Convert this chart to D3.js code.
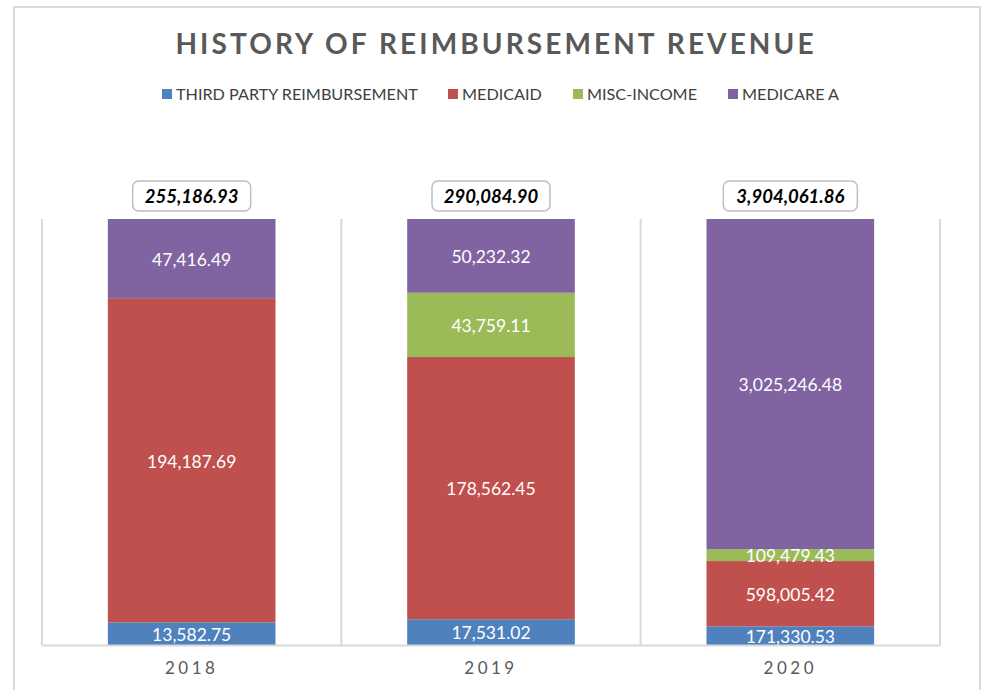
<!DOCTYPE html>
<html>
<head>
<meta charset="utf-8">
<script src="https://cdn.jsdelivr.net/npm/d3@7/dist/d3.min.js"></script>
<style>
  html, body { margin: 0; padding: 0; background: #fff; }
  svg { display: block; }
</style>
</head>
<body>
<svg id="chart" width="984" height="690"></svg>
<script>
// ---- Data ----
const years = ["2018", "2019", "2020"];
const seriesNames = ["THIRD PARTY REIMBURSEMENT", "MEDICAID", "MISC-INCOME", "MEDICARE A"];
const seriesColors = ["#4f81bd", "#c0504d", "#9bbb59", "#8064a2"];
const thirdParty = [13582.75, 17531.02, 171330.53];
const medicaid   = [194187.69, 178562.45, 598005.42];
const miscIncome = [0, 43759.11, 109479.43];
const medicareA  = [47416.49, 50232.32, 3025246.48];
const totals     = [255186.93, 290084.90, 3904061.86];

const title = "HISTORY OF REIMBURSEMENT REVENUE";

// ---- Build table ----
const keys = ["tp", "md", "mi", "ma"];
const rows = years.map((y, i) => ({
  year: y, tp: thirdParty[i], md: medicaid[i], mi: miscIncome[i], ma: medicareA[i], total: totals[i]
}));

const svg = d3.select("#chart");
const font = "Lato, 'Open Sans', sans-serif";

// outer border
svg.append("rect")
  .attr("x", 14).attr("y", 7).attr("width", 966).attr("height", 700)
  .attr("fill", "#fff").attr("stroke", "#d9d9d9").attr("stroke-width", 2);

// title
svg.append("text")
  .attr("x", 496).attr("y", 54)
  .attr("text-anchor", "middle")
  .attr("font-family", font)
  .attr("font-weight", "bold")
  .attr("font-size", 28)
  .attr("letter-spacing", 3.1)
  .attr("fill", "#595959")
  .text(title);

// legend
const legendX = [162, 448, 573, 728];
const legend = svg.append("g");
seriesNames.forEach((n, i) => {
  const g = legend.append("g").attr("transform", `translate(${legendX[i]},94)`);
  g.append("rect").attr("x", 0).attr("y", -5).attr("width", 10).attr("height", 10).attr("fill", seriesColors[i]);
  g.append("text").attr("x", 14).attr("y", 6)
    .attr("font-family", font).attr("font-size", 16.2).attr("fill", "#404040")
    .text(n);
});

// scales
const margin = { left: 42, right: 940, top: 219, bottom: 645 };
const x = d3.scaleBand().domain(years).range([margin.left, margin.right]).paddingInner(0).paddingOuter(0);
const y = d3.scaleLinear().domain([0, 1]).range([margin.bottom, margin.top]);

const stack = d3.stack().keys(keys).offset(d3.stackOffsetExpand);
const stacked = stack(rows);

// gridlines (category boundaries)
const bounds = years.map(d => x(d)).concat([x(years[years.length - 1]) + x.bandwidth()]);
svg.append("g").selectAll("line").data(bounds).join("line")
  .attr("x1", d => d).attr("x2", d => d)
  .attr("y1", margin.top).attr("y2", margin.bottom)
  .attr("stroke", "#d9d9d9").attr("stroke-width", 2);

const barW = x.bandwidth() * 0.56;
const off = (x.bandwidth() - barW) / 2;

// bars
const layers = svg.append("g").selectAll("g").data(stacked).join("g")
  .attr("fill", (d, i) => seriesColors[i]);
layers.selectAll("rect").data(d => d).join("rect")
  .attr("x", d => x(d.data.year) + off)
  .attr("width", barW)
  .attr("y", d => y(d[1]))
  .attr("height", d => y(d[0]) - y(d[1]));

// x axis line
const xAxis = d3.axisBottom(x).tickSize(0).tickPadding(0);
const ax = svg.append("g").attr("transform", `translate(0,${margin.bottom})`).call(xAxis);
ax.select(".domain").attr("stroke", "#d9d9d9").attr("stroke-width", 2);
ax.selectAll("text")
  .attr("y", 29)
  .attr("dy", 0)
  .attr("font-family", font)
  .attr("font-size", 17)
  .attr("letter-spacing", 3.5)
  .attr("fill", "#595959");

// data labels
const fmt = d3.format(",.2f");
stacked.forEach((layer, li) => {
  svg.append("g").selectAll("text").data(layer.filter(d => d.data[keys[li]] > 0)).join("text")
    .attr("x", d => x(d.data.year) + x.bandwidth() / 2)
    .attr("y", d => (y(d[0]) + y(d[1])) / 2)
    .attr("dy", "0.42em")
    .attr("text-anchor", "middle")
    .attr("font-family", font)
    .attr("font-size", 17.5)
    .attr("fill", "#ffffff")
    .text(d => fmt(d.data[keys[li]]));
});

// total labels with rounded boxes
const tg = svg.append("g").selectAll("g").data(rows).join("g")
  .attr("transform", d => `translate(${x(d.year) + x.bandwidth() / 2},196)`);
tg.append("rect")
  .attr("x", (d, i) => i === 2 ? -67 : -59)
  .attr("width", (d, i) => i === 2 ? 134 : 118)
  .attr("y", -15).attr("height", 30)
  .attr("rx", 6).attr("ry", 6)
  .attr("fill", "#fff").attr("stroke", "#bfbfbf").attr("stroke-width", 1.5);
tg.append("text")
  .attr("text-anchor", "middle").attr("dy", "0.36em")
  .attr("font-family", font).attr("font-weight", "bold").attr("font-style", "italic")
  .attr("font-size", 18.5).attr("fill", "#000")
  .text(d => fmt(d.total));
</script>
</body>
</html>
